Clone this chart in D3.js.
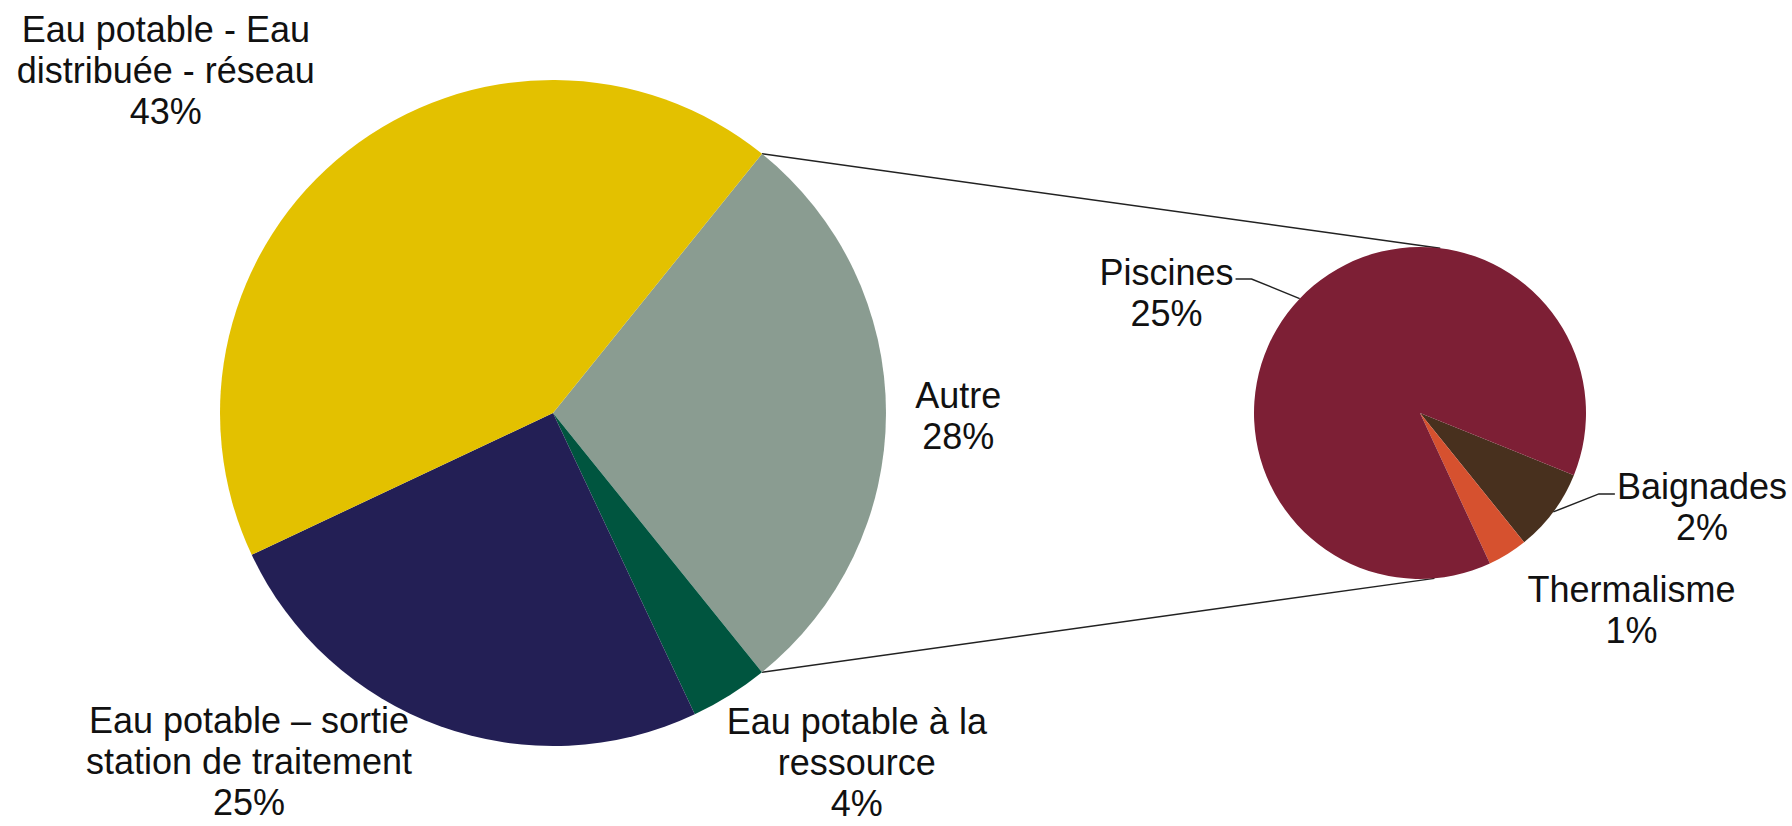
<!DOCTYPE html>
<html>
<head>
	<meta charset="utf-8">
	<title>Pie of pie</title>
	<script src="https://cdn.jsdelivr.net/npm/d3@7"></script>
</head>
<style type="text/css">
	body { margin: 0; background: #fff; }
	text { font-family: "Liberation Sans", Arial, sans-serif; font-size: 36px; fill: #111; }
</style>
<body>
</body>
</html>
<script type="text/javascript">
	var width = 1792;
	var height = 826;

	// main pie
	var mainLabels = ["Autre", "Eau potable à la ressource", "Eau potable – sortie station de traitement", "Eau potable - Eau distribuée - réseau"];
	var mainValues = [28.4, 3.8, 25, 42.8];
	var mainColors = ["#8A9C91", "#00553F", "#231F55", "#E3C100"];
	// secondary pie (detail of "Autre")
	var subLabels = ["Baignades", "Thermalisme", "Piscines"];
	var subValues = [2.3, 1.1, 25.0];
	var subColors = ["#48301E", "#D6512F", "#7D1F35"];

	// text lines for each label (before the percentage)
	var mainLines = [["Autre"], ["Eau potable à la", "ressource"], ["Eau potable – sortie", "station de traitement"], ["Eau potable - Eau", "distribuée - réseau"]];
	var subLines = [["Baignades"], ["Thermalisme"], ["Piscines"]];

	var cx1 = 553, cy1 = 413, r1 = 333;
	var cx2 = 1420, cy2 = 413, r2 = 166;
	var lineH = 41;
	var rad = Math.PI / 180;

	// nudges of label blocks from the label-arc centroid
	var mainNudge = [[-11, 3], [83, -3], [-163, -43], [-130, -15]];
	var subNudge = [[82, -54], [80, -15], [-73, 51]];
	var subLeader = [true, false, true];

	var svg = d3.select("body").append("svg").attr("width", width).attr("height", height);

	var total = d3.sum(mainValues);
	var autreSpan = mainValues[0] / total * 2 * Math.PI;
	var pie1 = d3.pie().sort(null).startAngle(Math.PI / 2 - autreSpan / 2).endAngle(Math.PI / 2 - autreSpan / 2 + 2 * Math.PI);
	var pie2 = d3.pie().sort(null).startAngle(112 * rad).endAngle(112 * rad + 2 * Math.PI);

	var arcs1 = pie1(mainValues);
	var arcs2 = pie2(subValues);

	var arc1 = d3.arc().innerRadius(0).outerRadius(r1);
	var arc2 = d3.arc().innerRadius(0).outerRadius(r2);
	var labelArc1 = d3.arc().innerRadius(r1 * 1.25).outerRadius(r1 * 1.25);
	var labelArc2 = d3.arc().innerRadius(r2 * 1.5).outerRadius(r2 * 1.5);

	function polar(cx, cy, r, a) { return [cx + r * Math.sin(a), cy - r * Math.cos(a)]; }

	// connector lines between the two pies
	var a0 = arcs1[0].startAngle, a1 = arcs1[0].endAngle;
	var lines = [
		[polar(cx1, cy1, r1, a0), polar(cx2, cy2, r2, 7 * rad)],
		[polar(cx1, cy1, r1, a1), polar(cx2, cy2, r2, 175 * rad)]
	];
	svg.selectAll("line.conn").data(lines).enter().append("line")
		.attr("class", "conn")
		.attr("x1", function(d){ return d[0][0]; }).attr("y1", function(d){ return d[0][1]; })
		.attr("x2", function(d){ return d[1][0]; }).attr("y2", function(d){ return d[1][1]; })
		.attr("stroke", "#222").attr("stroke-width", 1.5);

	var g1 = svg.append("g").attr("transform", "translate(" + cx1 + "," + cy1 + ")");
	g1.selectAll("path").data(arcs1).enter().append("path")
		.attr("d", arc1)
		.attr("fill", function(d, i){ return mainColors[i]; });

	var g2 = svg.append("g").attr("transform", "translate(" + cx2 + "," + cy2 + ")");
	g2.selectAll("path").data(arcs2).enter().append("path")
		.attr("d", arc2)
		.attr("fill", function(d, i){ return subColors[i]; });

	function addLabel(g, c, lines, pct) {
		var all = lines.concat([pct + "%"]);
		var y0 = c[1] - (all.length - 1) * lineH / 2;
		var t = g.append("text").attr("text-anchor", "middle");
		all.forEach(function(s, k){
			t.append("tspan").attr("x", c[0]).attr("y", y0 + k * lineH).attr("dy", "0.35em").text(s);
		});
		return { node: t, y0: y0 };
	}

	arcs1.forEach(function(d, i){
		var c = labelArc1.centroid(d);
		c = [c[0] + mainNudge[i][0], c[1] + mainNudge[i][1]];
		addLabel(g1, c, mainLines[i], Math.round(mainValues[i] / total * 100));
	});

	arcs2.forEach(function(d, i){
		var c = labelArc2.centroid(d);
		c = [c[0] + subNudge[i][0], c[1] + subNudge[i][1]];
		var lab = addLabel(g2, c, subLines[i], Math.round(subValues[i]));
		if (subLeader[i]) {
			var w = lab.node.select("tspan").node().getComputedTextLength();
			var mid = (d.startAngle + d.endAngle) / 2;
			var p = polar(0, 0, r2, mid);
			var side = p[0] < 0 ? -1 : 1;
			var ly = lab.y0 + 7;
			var ex = c[0] - side * (w / 2 + 2);
			g2.append("polyline")
				.attr("points", [[ex, ly], [ex - side * 16, ly], p].map(function(q){ return q.join(","); }).join(" "))
				.attr("fill", "none").attr("stroke", "#222").attr("stroke-width", 1.5);
		}
	});
</script>
